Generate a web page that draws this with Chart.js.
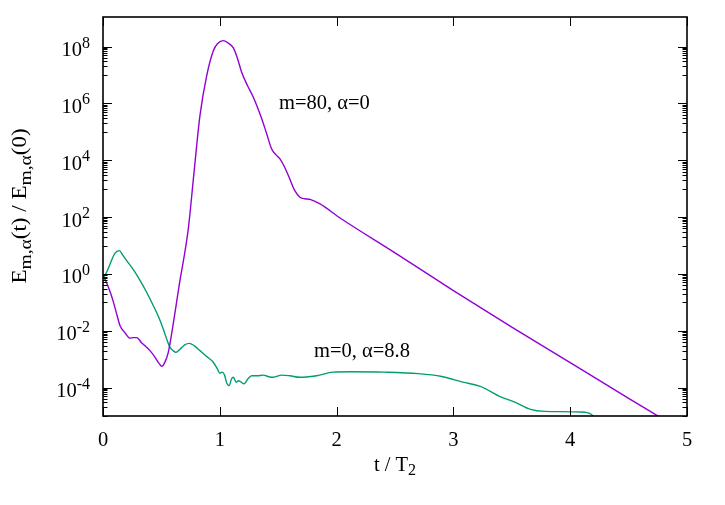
<!DOCTYPE html>
<html><head><meta charset="utf-8">
<script src="https://cdn.jsdelivr.net/npm/chart.js@4/dist/chart.umd.min.js"></script>
<style>html,body{margin:0;padding:0;background:#fff}#wrap{width:725px;height:505px}</style>
</head><body><div id="wrap"><canvas id="c" width="725" height="505"></canvas></div>
<script>
// ---- data (t / T2, energy ratio) ----
const m80T = [0, 0.03, 0.06, 0.09, 0.12, 0.146, 0.19, 0.231, 0.26, 0.289, 0.33, 0.37, 0.402, 0.44, 0.48, 0.503, 0.53, 0.559, 0.60, 0.65, 0.73, 0.78, 0.83, 0.888, 0.944, 0.98, 1.03, 1.07, 1.116, 1.15, 1.187, 1.24, 1.287, 1.359, 1.40, 1.444, 1.48, 1.515, 1.55, 1.587, 1.64, 1.686, 1.73, 1.772, 1.858, 2.03, 2.5, 3.0, 3.5, 4.0, 4.5, 4.8];
const m80E = [0.83, 0.50, 0.24, 0.1, 0.035, 0.015, 8.3e-3, 5.5e-3, 5.75e-3, 5.75e-3, 3.8e-3, 2.7e-3, 2.0e-3, 1.26e-3, 7.1e-4, 5.6e-4, 7.9e-4, 1.74e-3, 1.6e-2, 0.35, 38, 4.0e3, 3.7e5, 9.5e6, 7.0e7, 1.25e8, 1.62e8, 1.35e8, 9.0e7, 4.0e7, 1.26e7, 4.0e6, 1.66e6, 2.9e5, 8.9e4, 2.5e4, 1.58e4, 1.12e4, 6.3e3, 2.9e3, 890, 500, 440, 420, 290, 93, 5.5, 0.26, 0.0135, 7.6e-4, 4.2e-5, 7.5e-6];
const m0T = [0, 0.03, 0.07, 0.10, 0.14, 0.17, 0.203, 0.26, 0.317, 0.37, 0.431, 0.48, 0.516, 0.55, 0.574, 0.60, 0.625, 0.66, 0.70, 0.739, 0.78, 0.83, 0.88, 0.944, 0.98, 1.0, 1.02, 1.04, 1.06, 1.08, 1.10, 1.116, 1.14, 1.16, 1.18, 1.207, 1.24, 1.273, 1.32, 1.373, 1.42, 1.458, 1.53, 1.6, 1.686, 1.76, 1.83, 1.97, 2.11, 2.41, 2.70, 2.90, 3.08, 3.23, 3.40, 3.515, 3.66, 3.78, 4.09, 4.18, 4.25];
const m0E = [0.71, 1.12, 2.8, 5.2, 6.6, 4.5, 2.95, 1.41, 0.59, 0.24, 0.076, 0.028, 0.0115, 4.5e-3, 2.6e-3, 2.0e-3, 1.74e-3, 2.24e-3, 3.2e-3, 3.6e-3, 3.0e-3, 2.0e-3, 1.32e-3, 7.8e-4, 4.5e-4, 3.2e-4, 3.5e-4, 2.8e-4, 1.41e-4, 1.17e-4, 2.0e-4, 2.3e-4, 1.55e-4, 1.74e-4, 1.58e-4, 1.35e-4, 2.0e-4, 2.6e-4, 2.6e-4, 2.75e-4, 2.4e-4, 2.3e-4, 2.75e-4, 2.6e-4, 2.3e-4, 2.4e-4, 2.6e-4, 3.5e-4, 3.6e-4, 3.5e-4, 3.1e-4, 2.45e-4, 1.55e-4, 1.1e-4, 4.8e-5, 3.2e-5, 1.7e-5, 1.45e-5, 1.38e-5, 1.15e-5, 5e-6];

const xTicks = [0, 1, 2, 3, 4, 5];
const yTickValues = [1e-4, 1e-2, 1, 1e2, 1e4, 1e6, 1e8];
const yTickExps = ['-4', '-2', '0', '2', '4', '6', '8'];

const seriesNames = ['m=80, \u03B1=0', 'm=0, \u03B1=8.8'];
const nameT = [1.507, 1.807];
const nameE = [1.05e6, 2.1e-3];

const colors = ['#9400d3', '#009e73'];

// ---- helpers ----
const FONT = '"Liberation Serif", "Times New Roman", serif';
const BIG = 20.5, SMALL = 16;
function toPts(ts, es) { return ts.map((t, i) => ({x: t, y: es[i]})); }
function richWidth(ctx, segs) {
  let w = 0;
  segs.forEach(s => { ctx.font = s.size + 'px ' + FONT; w += ctx.measureText(s.t).width; });
  return w;
}
function drawRich(ctx, segs, x, y, align) {
  const w = richWidth(ctx, segs);
  let cx = align === 'right' ? x - w : (align === 'center' ? x - w / 2 : x);
  ctx.textAlign = 'left';
  ctx.textBaseline = 'alphabetic';
  segs.forEach(s => {
    ctx.font = s.size + 'px ' + FONT;
    ctx.fillText(s.t, cx, y + (s.dy || 0));
    cx += ctx.measureText(s.t).width;
  });
}

const frame = {
  id: 'frame',
  afterDatasetsDraw(chart) {
    const {ctx, chartArea: a, scales: {x, y}} = chart;
    ctx.save();
    ctx.fillStyle = '#000';
    ctx.strokeStyle = '#000';
    // ticks
    ctx.lineWidth = 1;
    ctx.beginPath();
    xTicks.forEach(v => {
      const px = Math.round(x.getPixelForValue(v)) + 0.5;
      ctx.moveTo(px, a.bottom); ctx.lineTo(px, a.bottom - 9);
      ctx.moveTo(px, a.top); ctx.lineTo(px, a.top + 9);
    });
    yTickValues.forEach(v => {
      const py = Math.round(y.getPixelForValue(v)) + 0.5;
      ctx.moveTo(a.left, py); ctx.lineTo(a.left + 9, py);
      ctx.moveTo(a.right, py); ctx.lineTo(a.right - 9, py);
      for (let k = 1; k <= 9; k++) {
        const mv = v / 10 * k;
        if (mv < y.min) continue;
        const my = Math.round(y.getPixelForValue(mv)) + 0.5;
        ctx.moveTo(a.left, my); ctx.lineTo(a.left + 4.5, my);
        ctx.moveTo(a.right, my); ctx.lineTo(a.right - 4.5, my);
      }
    });
    ctx.stroke();
    // border
    ctx.lineWidth = 1.6;
    ctx.strokeRect(a.left, a.top, a.right - a.left, a.bottom - a.top);
    // x tick labels
    xTicks.forEach(v => {
      drawRich(ctx, [{t: String(v), size: BIG}], x.getPixelForValue(v), 445.5, 'center');
    });
    // y tick labels
    yTickValues.forEach((v, i) => {
      const py = y.getPixelForValue(v);
      drawRich(ctx, [{t: '10', size: BIG}, {t: yTickExps[i], size: SMALL, dy: -8.5}], 90, py + 9.5, 'right');
    });
    // x title
    drawRich(ctx, [{t: 't / T', size: BIG}, {t: '2', size: SMALL, dy: 4}], (a.left + a.right) / 2, 471, 'center');
    // y title (rotated)
    ctx.save();
    ctx.translate(26, 206);
    ctx.rotate(-Math.PI / 2);
    ctx.scale(1.12, 1);
    drawRich(ctx, [
      {t: 'E', size: BIG}, {t: 'm,\u03B1', size: 17.5, dy: 5},
      {t: '(t) / E', size: BIG}, {t: 'm,\u03B1', size: 17.5, dy: 5},
      {t: '(0)', size: BIG}], 0, 0, 'center');
    ctx.restore();
    // series names
    seriesNames.forEach((s, i) => {
      const px = x.getPixelForValue(nameT[i]);
      const py = y.getPixelForValue(nameE[i]);
      drawRich(ctx, [{t: s, size: BIG}], px, py + 6.5, 'left');
    });
    ctx.restore();
  }
};

new Chart(document.getElementById('c'), {
  type: 'line',
  data: {
    datasets: [
      {label: seriesNames[0], data: toPts(m80T, m80E), borderColor: colors[0], borderWidth: 1.4, pointRadius: 0, cubicInterpolationMode: 'monotone', fill: false},
      {label: seriesNames[1], data: toPts(m0T, m0E), borderColor: colors[1], borderWidth: 1.4, pointRadius: 0, cubicInterpolationMode: 'monotone', fill: false}
    ]
  },
  options: {
    responsive: false,
    animation: false,
    devicePixelRatio: 1,
    layout: {padding: {left: 103, right: 38, top: 17, bottom: 89}},
    plugins: {legend: {display: false}, tooltip: {enabled: false}},
    scales: {
      x: {type: 'linear', min: 0, max: 5, display: false},
      y: {type: 'logarithmic', min: 1e-5, max: 1.1e9, display: false}
    }
  },
  plugins: [frame]
});
</script>
</body></html>
